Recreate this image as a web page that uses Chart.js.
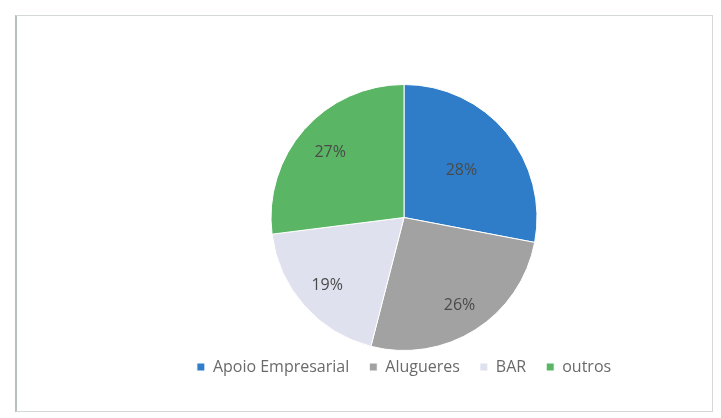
<!DOCTYPE html>
<html>
<head>
<meta charset="utf-8">
<script src="https://cdn.jsdelivr.net/npm/chart.js@4"></script>
<style>
  html, body { margin: 0; padding: 0; background: #fff; }
  body { width: 721px; height: 418px; position: relative; overflow: hidden; }
  .frame {
    position: absolute; left: 15px; top: 15px; width: 698px; height: 397px;
    border: 1px solid #d4d8d6; border-left: 2px solid #b8bfbd; box-sizing: border-box;
  }
  .wrap { position: absolute; left: 104px; top: 84px; width: 600px; height: 313px; }
</style>
</head>
<body>
<div class="frame"></div>
<div class="wrap"><canvas id="myChart"></canvas></div>
<script>
const categories = ['Apoio Empresarial', 'Alugueres', 'BAR', 'outros'];
const shares = [28, 26, 19, 27];
const colors = ['#2f7dc8', '#a2a2a2', '#dfe1ef', '#5ab564'];

// percentage text inside each slice; radius factor per slice
const sliceLabels = {
  id: 'sliceLabels',
  afterDatasetsDraw(chart, args, opts) {
    const ctx = chart.ctx;
    const meta = chart.getDatasetMeta(0);
    ctx.save();
    ctx.font = '16px "Open Sans", sans-serif';
    ctx.fillStyle = '#4a4a4a';
    ctx.textAlign = 'center';
    ctx.textBaseline = 'middle';
    meta.data.forEach((arc, i) => {
      const mid = (arc.startAngle + arc.endAngle) / 2;
      const r = arc.outerRadius * opts.radius[i];
      ctx.fillText(shares[i] + '%', arc.x + Math.cos(mid) * r, arc.y + Math.sin(mid) * r);
    });
    ctx.restore();
  }
};

// pull the legend row up closer to the pie
const legendNudge = {
  id: 'legendNudge',
  afterLayout(chart, args, opts) {
    chart.legend.top -= opts.shift;
    chart.legend.bottom -= opts.shift;
  }
};

const config = {
  type: 'pie',
  data: {
    labels: categories,
    datasets: [{
      data: shares,
      backgroundColor: colors,
      borderColor: '#ffffff',
      borderWidth: 1,
    }],
  },
  options: {
    responsive: true,
    maintainAspectRatio: false,
    animation: false,
    plugins: {
      tooltip: { enabled: false },
      sliceLabels: { radius: [0.56, 0.78, 0.77, 0.74] },
      legendNudge: { shift: 12 },
      legend: {
        position: 'bottom',
        labels: {
          boxWidth: 8,
          boxHeight: 8,
          padding: 20,
          color: '#6a6a6a',
          font: { family: '"Open Sans", sans-serif', size: 16 },
        },
      },
    },
  },
  plugins: [sliceLabels, legendNudge],
};

const myChart = new Chart(document.getElementById('myChart'), config);
</script>
</body>
</html>
